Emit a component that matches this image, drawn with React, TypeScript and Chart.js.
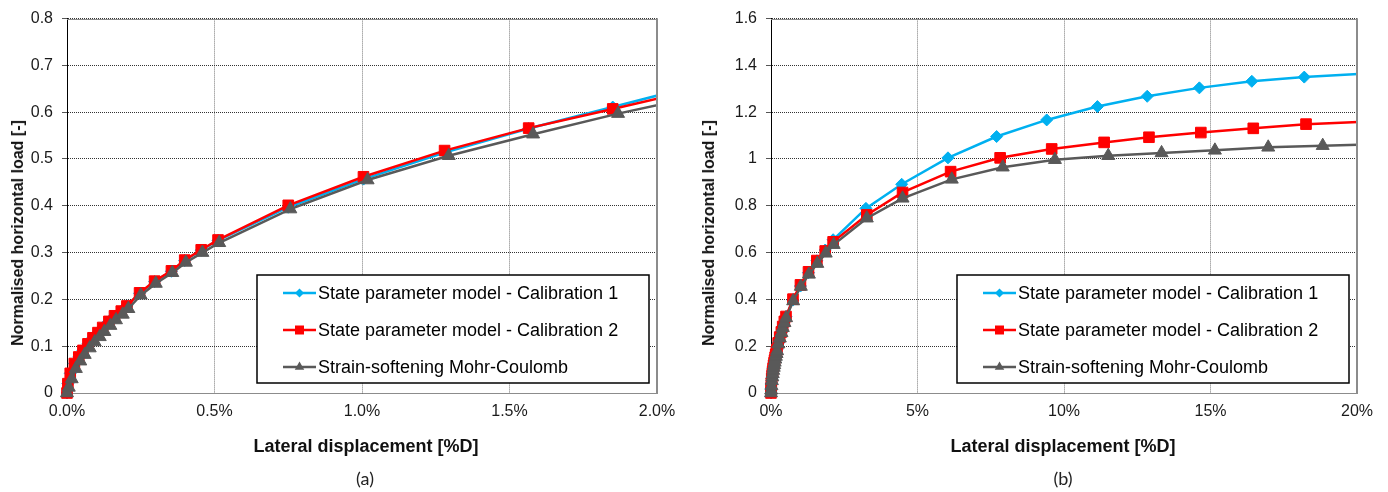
import React, { useEffect, useRef } from 'react';
import { Chart, registerables } from 'chart.js';

Chart.register(...registerables);

// Lateral displacement [%D] and normalised horizontal load [-] for each model
const DISP_CAL1 = [0, 0.003, 0.011, 0.025, 0.04, 0.054, 0.071, 0.088, 0.105, 0.121, 0.142, 0.161, 0.184, 0.203, 0.246, 0.297, 0.354, 0.399, 0.455, 0.512, 0.75, 1.005, 1.28, 1.565, 1.85, 2.12, 3.24, 4.46, 6.04, 7.7, 9.41, 11.14, 12.84, 14.62, 16.41, 18.2, 21.0];
const LOAD_CAL1 = [0, 0.02, 0.042, 0.063, 0.077, 0.091, 0.105, 0.118, 0.129, 0.14, 0.153, 0.164, 0.175, 0.186, 0.213, 0.238, 0.26, 0.283, 0.305, 0.326, 0.397, 0.457, 0.514, 0.565, 0.611, 0.655, 0.789, 0.892, 1.005, 1.096, 1.167, 1.224, 1.268, 1.304, 1.332, 1.35, 1.37];

const DISP_CAL2 = [0, 0.003, 0.011, 0.025, 0.04, 0.054, 0.071, 0.088, 0.105, 0.121, 0.142, 0.161, 0.184, 0.203, 0.246, 0.297, 0.354, 0.399, 0.455, 0.512, 0.75, 1.005, 1.28, 1.565, 1.85, 2.12, 3.27, 4.49, 6.13, 7.82, 9.58, 11.37, 12.9, 14.67, 16.46, 18.26, 21.0];
const LOAD_CAL2 = [0, 0.02, 0.042, 0.063, 0.077, 0.091, 0.105, 0.118, 0.129, 0.14, 0.153, 0.165, 0.175, 0.186, 0.214, 0.239, 0.261, 0.284, 0.306, 0.327, 0.401, 0.462, 0.518, 0.566, 0.607, 0.646, 0.761, 0.857, 0.946, 1.005, 1.043, 1.071, 1.093, 1.113, 1.131, 1.149, 1.163];

const DISP_SSMC = [0, 0.006, 0.016, 0.03, 0.045, 0.06, 0.077, 0.094, 0.111, 0.127, 0.147, 0.166, 0.189, 0.208, 0.25, 0.301, 0.357, 0.403, 0.459, 0.516, 0.757, 1.019, 1.294, 1.58, 1.868, 2.14, 3.27, 4.49, 6.17, 7.91, 9.69, 11.51, 13.33, 15.15, 16.97, 18.83, 21.0];
const LOAD_SSMC = [0, 0.012, 0.03, 0.052, 0.068, 0.082, 0.096, 0.109, 0.12, 0.131, 0.144, 0.156, 0.168, 0.18, 0.209, 0.234, 0.257, 0.279, 0.3, 0.321, 0.393, 0.455, 0.507, 0.553, 0.597, 0.634, 0.747, 0.832, 0.913, 0.965, 0.997, 1.014, 1.026, 1.037, 1.05, 1.057, 1.064];

const SERIES_NAMES = [
  'State parameter model - Calibration 1',
  'State parameter model - Calibration 2',
  'Strain-softening Mohr-Coulomb',
];

const LEFT_X_TICKS = ['0.0%', '0.5%', '1.0%', '1.5%', '2.0%'];
const LEFT_Y_TICKS = ['0', '0.1', '0.2', '0.3', '0.4', '0.5', '0.6', '0.7', '0.8'];
const RIGHT_X_TICKS = ['0%', '5%', '10%', '15%', '20%'];
const RIGHT_Y_TICKS = ['0', '0.2', '0.4', '0.6', '0.8', '1', '1.2', '1.4', '1.6'];

const X_TITLE = 'Lateral displacement [%D]';
const Y_TITLE = 'Normalised horizontal load [-]';

const FONT = "'Liberation Sans', Arial, Helvetica, sans-serif";
const COL_CAL1 = '#00B0F0';
const COL_CAL2 = '#FF0000';
const COL_SSMC = '#595959';

const toPoints = (xs: number[], ys: number[]) => xs.map((x, i) => ({ x, y: ys[i] }));

// Draws a small legend marker in the dataset's point style
function drawLegendMarker(ctx: CanvasRenderingContext2D, style: string, cx: number, cy: number, color: string) {
  ctx.fillStyle = color;
  ctx.beginPath();
  if (style === 'rectRot') {
    const r = 4.5;
    ctx.moveTo(cx, cy - r);
    ctx.lineTo(cx + r, cy);
    ctx.lineTo(cx, cy + r);
    ctx.lineTo(cx - r, cy);
  } else if (style === 'rect') {
    const s = 4.5;
    ctx.rect(cx - s, cy - s, 2 * s, 2 * s);
  } else {
    const r = 5.5;
    ctx.moveTo(cx, cy - r);
    ctx.lineTo(cx + r * 0.866, cy + r / 2);
    ctx.lineTo(cx - r * 0.866, cy + r / 2);
  }
  ctx.closePath();
  ctx.fill();
}

// Boxed legend anchored to the lower right corner of the plot area, plus the plot frame
const framePlugin = {
  id: 'frameAndLegend',
  afterDatasetsDraw(chart: any, _args: any, opts: any) {
    const { ctx, chartArea } = chart;
    ctx.save();
    // top and right frame of the plot area
    ctx.strokeStyle = '#8c8c8c';
    ctx.lineWidth = 1;
    ctx.beginPath();
    ctx.moveTo(chartArea.left, Math.round(chartArea.top) + 0.5);
    ctx.lineTo(chartArea.right, Math.round(chartArea.top) + 0.5);
    ctx.stroke();
    ctx.lineWidth = 2;
    ctx.beginPath();
    ctx.moveTo(Math.round(chartArea.right), chartArea.top);
    ctx.lineTo(Math.round(chartArea.right), chartArea.bottom);
    ctx.stroke();

    const w = opts.width;
    const h = opts.height;
    const x0 = Math.round(chartArea.right - opts.right - w);
    const y0 = Math.round(chartArea.bottom - opts.bottom - h);
    ctx.fillStyle = '#ffffff';
    ctx.fillRect(x0, y0, w, h);
    ctx.strokeStyle = '#000000';
    ctx.lineWidth = 1.5;
    ctx.strokeRect(x0, y0, w, h);

    [0, 1, 2].forEach((i) => {
      const ds = chart.data.datasets[i];
      const cy = y0 + opts.firstRow + i * opts.rowGap;
      ctx.strokeStyle = ds.borderColor;
      ctx.lineWidth = 2.5;
      ctx.beginPath();
      ctx.moveTo(x0 + 26, cy);
      ctx.lineTo(x0 + 59, cy);
      ctx.stroke();
      drawLegendMarker(ctx, ds.pointStyle, x0 + 42.5, cy, ds.borderColor);
      ctx.fillStyle = '#000000';
      ctx.font = `18px ${FONT}`;
      ctx.textBaseline = 'middle';
      ctx.textAlign = 'left';
      ctx.fillText(ds.label, x0 + 61, cy + 1);
    });
    ctx.restore();
  },
};

function makeDatasets() {
  const clip = { left: 12, top: 12, right: 1, bottom: 12 };
  const common = { borderWidth: 2.5, tension: 0, pointBorderWidth: 1, clip };
  return [
    {
      ...common,
      label: SERIES_NAMES[0],
      data: toPoints(DISP_CAL1, LOAD_CAL1),
      borderColor: COL_CAL1,
      backgroundColor: COL_CAL1,
      pointBackgroundColor: COL_CAL1,
      pointBorderColor: COL_CAL1,
      pointStyle: 'rectRot',
      pointRadius: 6,
      order: 3,
    },
    {
      ...common,
      label: SERIES_NAMES[1],
      data: toPoints(DISP_CAL2, LOAD_CAL2),
      borderColor: COL_CAL2,
      backgroundColor: COL_CAL2,
      pointBackgroundColor: COL_CAL2,
      pointBorderColor: COL_CAL2,
      pointStyle: 'rect',
      pointRadius: 7.5,
      order: 2,
    },
    {
      ...common,
      label: SERIES_NAMES[2],
      data: toPoints(DISP_SSMC, LOAD_SSMC),
      borderColor: COL_SSMC,
      backgroundColor: COL_SSMC,
      pointBackgroundColor: COL_SSMC,
      pointBorderColor: COL_SSMC,
      pointStyle: 'triangle',
      pointRadius: 7.5,
      order: 1,
    },
  ];
}

interface PanelProps {
  xMax: number;
  xStep: number;
  yMax: number;
  yStep: number;
  xTicks: string[];
  yTicks: string[];
  axisWidth: number;
  rightPad: number;
}

function Panel({ xMax, xStep, yMax, yStep, xTicks, yTicks, axisWidth, rightPad }: PanelProps) {
  const ref = useRef<HTMLCanvasElement | null>(null);
  useEffect(() => {
    if (!ref.current) return;
    const chart = new Chart(ref.current, {
      type: 'line',
      data: { datasets: makeDatasets() as any },
      plugins: [framePlugin],
      options: {
        animation: false,
        responsive: false,
        devicePixelRatio: 1,
        events: [],
        layout: { padding: { top: 14, right: rightPad, bottom: 0, left: 0 } },
        plugins: {
          legend: { display: false },
          tooltip: { enabled: false },
          frameAndLegend: { width: 392, height: 108, right: 8, bottom: 10, firstRow: 18, rowGap: 37 },
        } as any,
        scales: {
          x: {
            type: 'linear',
            min: 0,
            max: xMax,
            afterFit: (s: any) => { s.height = 99; },
            ticks: {
              stepSize: xStep,
              padding: 9,
              color: '#1a1a1a',
              font: { family: FONT, size: 16 },
              maxRotation: 0,
              callback: (_v: any, i: number) => xTicks[i],
            },
            grid: { color: '#7a7a7a', lineWidth: 1, drawTicks: false },
            border: { display: true, color: '#8c8c8c', width: 1, dash: [1, 1] },
          },
          y: {
            type: 'linear',
            min: 0,
            max: yMax,
            afterFit: (s: any) => { s.width = axisWidth; },
            ticks: {
              stepSize: yStep,
              padding: 9,
              color: '#1a1a1a',
              font: { family: FONT, size: 16 },
              callback: (_v: any, i: number) => yTicks[i],
            },
            grid: { color: '#333333', lineWidth: 1, drawTicks: true, tickLength: 5, tickColor: '#555555' },
            border: { display: true, color: '#000000', width: 1, dash: [1, 1] },
          },
        },
      } as any,
    });
    return () => chart.destroy();
  }, []);
  return <canvas ref={ref} width={694} height={492} style={{ width: 694, height: 492, display: 'block' }} />;
}

const abs = (extra: React.CSSProperties): React.CSSProperties => ({
  position: 'absolute',
  whiteSpace: 'nowrap',
  color: '#111',
  ...extra,
});

export default function App() {
  const yTitle = (cx: number): React.CSSProperties =>
    abs({ left: cx, top: 233, transform: 'translate(-50%, -50%) rotate(-90deg)', font: `bold 16px ${FONT}` });
  const xTitle = (cx: number): React.CSSProperties =>
    abs({ left: cx, top: 446, transform: 'translate(-50%, -50%)', font: `bold 18px ${FONT}` });
  const caption = (cx: number): React.CSSProperties =>
    abs({ left: cx, top: 478, transform: 'translate(-50%, -50%)', font: `18px Lato, 'Open Sans', sans-serif`, color: '#222' });

  return (
    <div style={{ position: 'absolute', left: 0, top: 0, width: 1388, height: 492, background: '#fff', overflow: 'hidden' }}>
      <div style={{ position: 'absolute', left: 0, top: 0 }}>
        <Panel xMax={2} xStep={0.5} yMax={0.8} yStep={0.1} xTicks={LEFT_X_TICKS} yTicks={LEFT_Y_TICKS} axisWidth={67} rightPad={37} />
      </div>
      <div style={{ position: 'absolute', left: 694, top: 0 }}>
        <Panel xMax={20} xStep={5} yMax={1.6} yStep={0.2} xTicks={RIGHT_X_TICKS} yTicks={RIGHT_Y_TICKS} axisWidth={77} rightPad={31} />
      </div>
      <div style={yTitle(18)}>{Y_TITLE}</div>
      <div style={yTitle(709)}>{Y_TITLE}</div>
      <div style={xTitle(366)}>{X_TITLE}</div>
      <div style={xTitle(1063)}>{X_TITLE}</div>
      <div style={caption(365)}>(a)</div>
      <div style={caption(1063)}>(b)</div>
    </div>
  );
}
